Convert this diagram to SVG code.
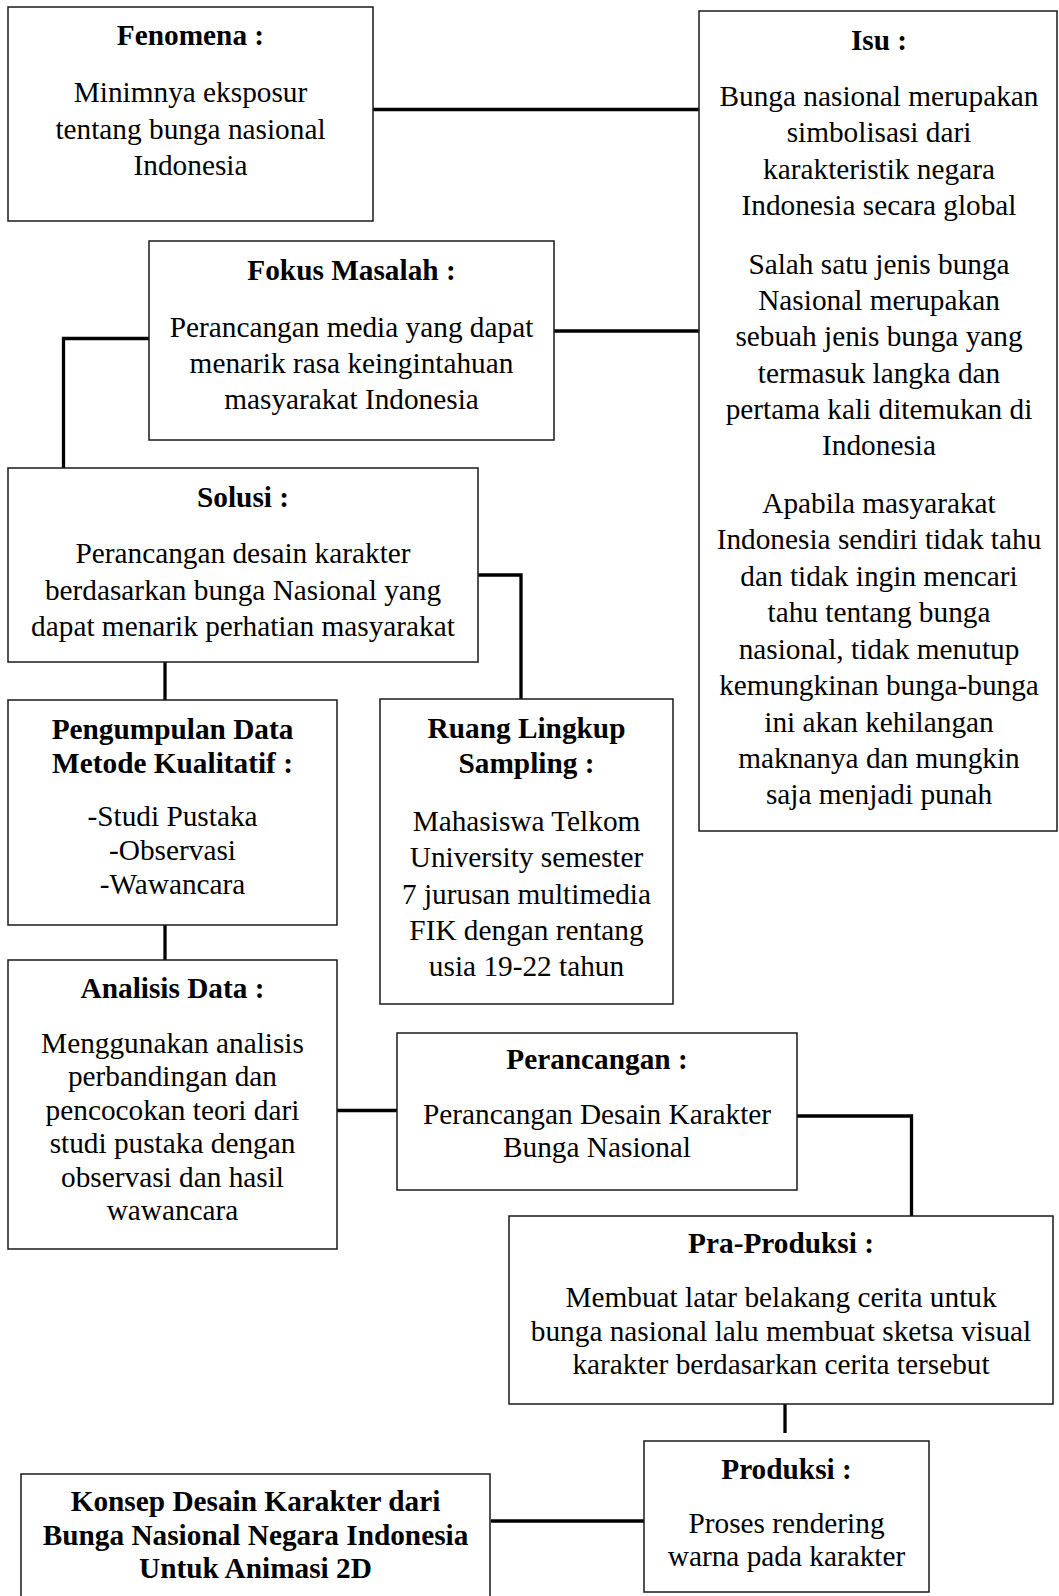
<svg xmlns="http://www.w3.org/2000/svg" width="1059" height="1596" viewBox="0 0 1059 1596">
<style>
.box{fill:#fff;stroke:#1a1a1a;stroke-width:1.5}
.con{fill:none;stroke:#000;stroke-width:3.3}
text{font-family:"Liberation Serif","Times New Roman",serif;font-size:29.3px;fill:#000;text-anchor:middle}
.t{font-weight:bold}
</style>
<rect width="1059" height="1596" fill="#fff"/>
<g id="connectors">
<path class="con" d="M373 109.5H699"/>
<path class="con" d="M554 331H699"/>
<path class="con" d="M149 338.5H63.5V468"/>
<path class="con" d="M478 575H521V700"/>
<path class="con" d="M165 662V700"/>
<path class="con" d="M165 925V960"/>
<path class="con" d="M337 1110.5H397"/>
<path class="con" d="M797 1116H911.5V1216"/>
<path class="con" d="M785 1401V1433"/>
<path class="con" d="M491 1521H644"/>
</g>
<g id="fenomena">
<rect class="box" x="8" y="7" width="365" height="214"/>
<text class="t" x="190.5" y="45">Fenomena :</text>
<text x="190.5" y="102">Minimnya eksposur</text>
<text x="190.5" y="138.5">tentang bunga nasional</text>
<text x="190.5" y="175">Indonesia</text>
</g>
<g id="isu">
<rect class="box" x="699" y="11" width="358" height="820"/>
<text class="t" x="879" y="49.5">Isu :</text>
<text x="879" y="106">Bunga nasional merupakan</text>
<text x="879" y="142.4">simbolisasi dari</text>
<text x="879" y="178.8">karakteristik negara</text>
<text x="879" y="215">Indonesia secara global</text>
<text x="879" y="273.5">Salah satu jenis bunga</text>
<text x="879" y="310">Nasional merupakan</text>
<text x="879" y="346.3">sebuah jenis bunga yang</text>
<text x="879" y="382.6">termasuk langka dan</text>
<text x="879" y="419">pertama kali ditemukan di</text>
<text x="879" y="455.3">Indonesia</text>
<text x="879" y="512.5">Apabila masyarakat</text>
<text x="879" y="549">Indonesia sendiri tidak tahu</text>
<text x="879" y="585.5">dan tidak ingin mencari</text>
<text x="879" y="622">tahu tentang bunga</text>
<text x="879" y="658.5">nasional, tidak menutup</text>
<text x="879" y="695">kemungkinan bunga-bunga</text>
<text x="879" y="731.5">ini akan kehilangan</text>
<text x="879" y="768">maknanya dan mungkin</text>
<text x="879" y="804">saja menjadi punah</text>
</g>
<g id="fokus">
<rect class="box" x="149" y="241" width="405" height="199"/>
<text class="t" x="351.5" y="280">Fokus Masalah :</text>
<text x="351.5" y="336.5">Perancangan media yang dapat</text>
<text x="351.5" y="372.5">menarik rasa keingintahuan</text>
<text x="351.5" y="408.5">masyarakat Indonesia</text>
</g>
<g id="solusi">
<rect class="box" x="8" y="468" width="470" height="194"/>
<text class="t" x="243" y="507">Solusi :</text>
<text x="243" y="563">Perancangan desain karakter</text>
<text x="243" y="599.5">berdasarkan bunga Nasional yang</text>
<text x="243" y="635.5">dapat menarik perhatian masyarakat</text>
</g>
<g id="pengumpulan">
<rect class="box" x="8" y="700" width="329" height="225"/>
<text class="t" x="172.5" y="738.5">Pengumpulan Data</text>
<text class="t" x="172.5" y="773">Metode Kualitatif :</text>
<text x="172.5" y="826">-Studi Pustaka</text>
<text x="172.5" y="860">-Observasi</text>
<text x="172.5" y="894">-Wawancara</text>
</g>
<g id="ruang">
<rect class="box" x="380" y="699" width="293" height="305"/>
<text class="t" x="526.5" y="738">Ruang Lingkup</text>
<text class="t" x="526.5" y="773">Sampling :</text>
<text x="526.5" y="830.5">Mahasiswa Telkom</text>
<text x="526.5" y="867">University semester</text>
<text x="526.5" y="903.5">7 jurusan multimedia</text>
<text x="526.5" y="939.8">FIK dengan rentang</text>
<text x="526.5" y="975.5">usia 19-22 tahun</text>
</g>
<g id="analisis">
<rect class="box" x="8" y="960" width="329" height="289"/>
<text class="t" x="172.5" y="998">Analisis Data :</text>
<text x="172.5" y="1052.5">Menggunakan analisis</text>
<text x="172.5" y="1086">perbandingan dan</text>
<text x="172.5" y="1119.5">pencocokan teori dari</text>
<text x="172.5" y="1153">studi pustaka dengan</text>
<text x="172.5" y="1186.5">observasi dan hasil</text>
<text x="172.5" y="1220">wawancara</text>
</g>
<g id="perancangan">
<rect class="box" x="397" y="1033" width="400" height="157"/>
<text class="t" x="597" y="1069">Perancangan :</text>
<text x="597" y="1123.5">Perancangan Desain Karakter</text>
<text x="597" y="1157">Bunga Nasional</text>
</g>
<g id="praproduksi">
<rect class="box" x="509" y="1216" width="544" height="188"/>
<text class="t" x="781" y="1252.5">Pra-Produksi :</text>
<text x="781" y="1307">Membuat latar belakang cerita untuk</text>
<text x="781" y="1340.5">bunga nasional lalu membuat sketsa visual</text>
<text x="781" y="1374">karakter berdasarkan cerita tersebut</text>
</g>
<g id="produksi">
<rect class="box" x="644" y="1441" width="285" height="151"/>
<text class="t" x="786.5" y="1479">Produksi :</text>
<text x="786.5" y="1532.5">Proses rendering</text>
<text x="786.5" y="1566">warna pada karakter</text>
</g>
<g id="konsep">
<rect class="box" x="21" y="1474" width="469" height="140"/>
<text class="t" x="255.5" y="1510.5">Konsep Desain Karakter dari</text>
<text class="t" x="255.5" y="1544.5">Bunga Nasional Negara Indonesia</text>
<text class="t" x="255.5" y="1578">Untuk Animasi 2D</text>
</g>
</svg>
